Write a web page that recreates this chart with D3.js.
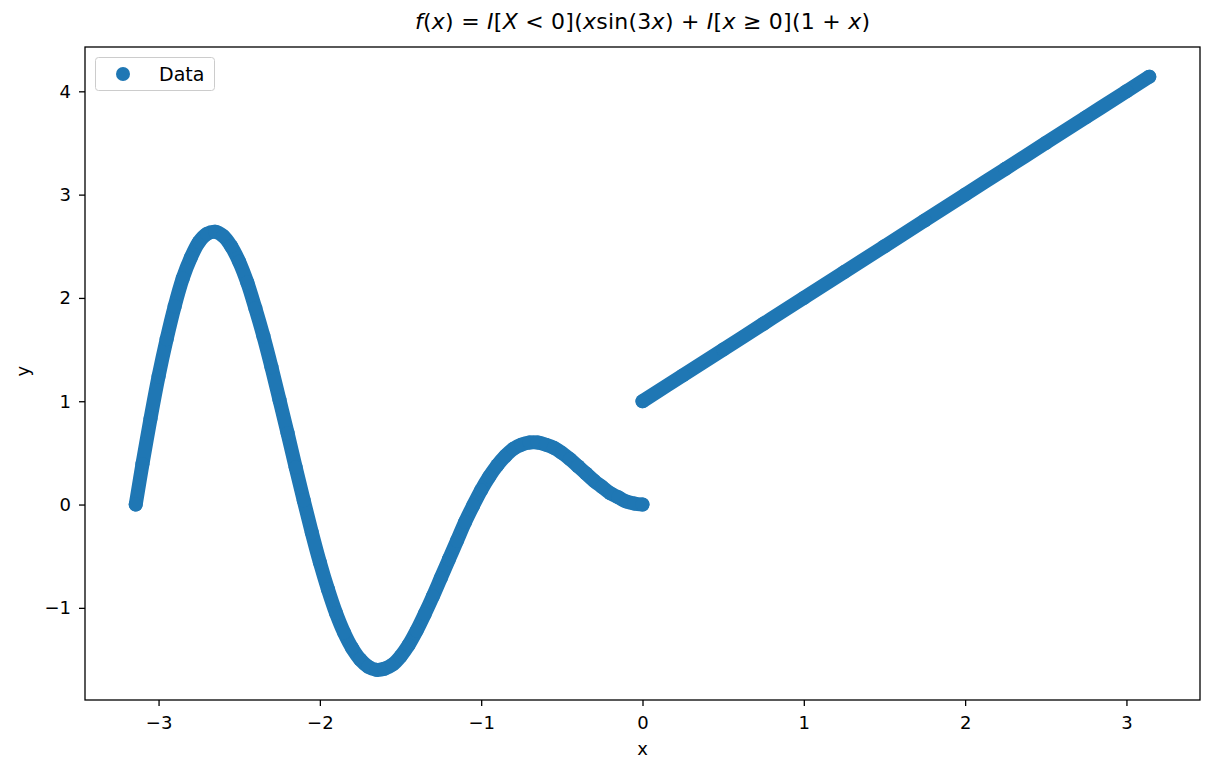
<!DOCTYPE html>
<html>
<head>
	<meta charset="utf-8">
	<title>Piecewise scatter</title>
	<style>
		body { margin: 0; background: #fff; }
		svg, svg text { font-family: 'DejaVu Sans', sans-serif; }
		.tick text { font-size: 18px; fill: #000; }
		.tick line, .domain { stroke: #000; }
	</style>
</head>
<body>
	<svg width="1215" height="774"></svg>
<script src="https://d3js.org/d3.v7.min.js"></script>
<script>

	// values: x < 0 branch
	const xLeft = [-3.1416, -3.10, -3.05, -3.00, -2.95, -2.90, -2.85, -2.80, -2.75, -2.70,
		-2.65, -2.60, -2.55, -2.50, -2.45, -2.40, -2.35, -2.30, -2.25, -2.20,
		-2.15, -2.10, -2.05, -2.00, -1.95, -1.90, -1.85, -1.80, -1.75, -1.70,
		-1.65, -1.60, -1.55, -1.50, -1.45, -1.40, -1.35, -1.30, -1.25, -1.20,
		-1.15, -1.10, -1.05, -1.00, -0.95, -0.90, -0.85, -0.80, -0.75, -0.70,
		-0.65, -0.60, -0.55, -0.50, -0.45, -0.40, -0.35, -0.30, -0.25, -0.20,
		-0.15, -0.10, -0.05, 0.00]
	const yLeft = [0.00, 0.39, 0.83, 1.24, 1.60, 1.92, 2.19, 2.39, 2.54, 2.62,
		2.64, 2.60, 2.50, 2.35, 2.15, 1.90, 1.63, 1.33, 1.01, 0.69,
		0.36, 0.04, -0.27, -0.56, -0.82, -1.05, -1.24, -1.39, -1.50, -1.57,
		-1.60, -1.59, -1.55, -1.47, -1.36, -1.22, -1.06, -0.89, -0.71, -0.53,
		-0.35, -0.17, -0.01, 0.14, 0.27, 0.38, 0.47, 0.54, 0.58, 0.60,
		0.60, 0.58, 0.55, 0.50, 0.44, 0.37, 0.30, 0.23, 0.17, 0.11,
		0.07, 0.03, 0.01, 0.00]

	// x >= 0 branch
	const xRight = [0.00, 0.25, 0.50, 0.75, 1.00, 1.25, 1.50, 1.75, 2.00, 2.25, 2.50, 2.75, 3.00, 3.1416]
	const yRight = [1.00, 1.25, 1.50, 1.75, 2.00, 2.25, 2.50, 2.75, 3.00, 3.25, 3.50, 3.75, 4.00, 4.1416]

	const xTicks = [-3, -2, -1, 0, 1, 2, 3]
	const yTicks = [-1, 0, 1, 2, 3, 4]

	const color = '#1f77b4'
	const r = 7

	const margin = {left: 85, right: 15, top: 47, bottom: 74}
	const width = 1215, height = 774

	const svg = d3.select('svg')

	const x = d3.scaleLinear()
		.domain([-3.456, 3.456])
		.range([margin.left, width - margin.right])

	const y = d3.scaleLinear()
		.domain([-1.892, 4.429])
		.range([height - margin.bottom, margin.top])

	const left = xLeft.map((v, i) => [v, yLeft[i]])
	const right = xRight.map((v, i) => [v, yRight[i]])

	let plot = svg.append('g')

	const line = d3.line()
		.x(d => x(d[0]))
		.y(d => y(d[1]))
		.curve(d3.curveCatmullRom)

	// dense scatter reads as a thick band, so fill between the points
	plot.selectAll('path.band')
		.data([left, right])
		.join('path')
		.attr('class', 'band')
		.attr('d', line)
		.attr('fill', 'none')
		.attr('stroke', color)
		.attr('stroke-width', r * 2)
		.attr('stroke-linecap', 'round')
		.attr('stroke-linejoin', 'round')

	plot.selectAll('circle')
		.data(left.concat(right))
		.join('circle')
		.attr('cx', d => x(d[0]))
		.attr('cy', d => y(d[1]))
		.attr('r', r)
		.attr('fill', color)

	// axes
	const fmt = d3.format('d')
	const xAxis = d3.axisBottom(x).tickValues(xTicks).tickFormat(fmt).tickSize(6).tickPadding(10)
	const yAxis = d3.axisLeft(y).tickValues(yTicks).tickFormat(fmt).tickSize(6).tickPadding(8)

	svg.append('g')
		.attr('transform', `translate(0, ${height - margin.bottom})`)
		.call(xAxis)
		.call(g => g.select('.domain').remove())
		.attr('font-family', null)
		.attr('font-size', null)
		.selectAll('line').attr('stroke-width', 1.3)

	svg.append('g')
		.attr('transform', `translate(${margin.left}, 0)`)
		.call(yAxis)
		.call(g => g.select('.domain').remove())
		.attr('font-family', null)
		.attr('font-size', null)
		.selectAll('line').attr('stroke-width', 1.3)

	// frame
	svg.append('rect')
		.attr('x', margin.left)
		.attr('y', margin.top)
		.attr('width', width - margin.left - margin.right)
		.attr('height', height - margin.top - margin.bottom)
		.attr('fill', 'none')
		.attr('stroke', '#000')
		.attr('stroke-width', 1.3)

	// axis labels
	svg.append('text')
		.attr('x', x(0))
		.attr('y', 755)
		.attr('text-anchor', 'middle')
		.style('font-size', '18px')
		.text('x')

	svg.append('text')
		.attr('transform', `translate(29, ${y(1.292)}) rotate(-90)`)
		.attr('text-anchor', 'middle')
		.style('font-size', '18px')
		.text('y')

	// title, mathtext style
	const titleParts = [
		['f', 'i'], ['(', 'n'], ['x', 'i'], [')', 'n'], [' = ', 'n'], ['I', 'i'], ['[', 'n'], ['X', 'i'],
		[' < 0](', 'n'], ['x', 'i'], ['sin(3', 'n'], ['x', 'i'], [') + ', 'n'], ['I', 'i'], ['[', 'n'],
		['x', 'i'], [' ≥ 0](1 + ', 'n'], ['x', 'i'], [')', 'n']
	]
	let title = svg.append('text')
		.attr('x', x(0))
		.attr('y', 29)
		.attr('text-anchor', 'middle')
		.attr('textLength', 455)
		.attr('lengthAdjust', 'spacing')
		.style('font-size', '22px')
		.attr('xml:space', 'preserve')
	title.selectAll('tspan')
		.data(titleParts)
		.join('tspan')
		.style('font-style', d => d[1] == 'i' ? 'oblique' : 'normal')
		.text(d => d[0])

	// legend
	let legend = svg.append('g')
	legend.append('rect')
		.attr('x', 95.5)
		.attr('y', 57.5)
		.attr('width', 119)
		.attr('height', 33)
		.attr('rx', 3)
		.attr('fill', '#fff')
		.attr('fill-opacity', 0.8)
		.attr('stroke', '#ccc')
	legend.append('circle')
		.attr('cx', 123)
		.attr('cy', 74)
		.attr('r', r)
		.attr('fill', color)
	legend.append('text')
		.attr('x', 159)
		.attr('y', 81)
		.style('font-size', '19px')
		.text('Data')

</script>
</body>
</html>
